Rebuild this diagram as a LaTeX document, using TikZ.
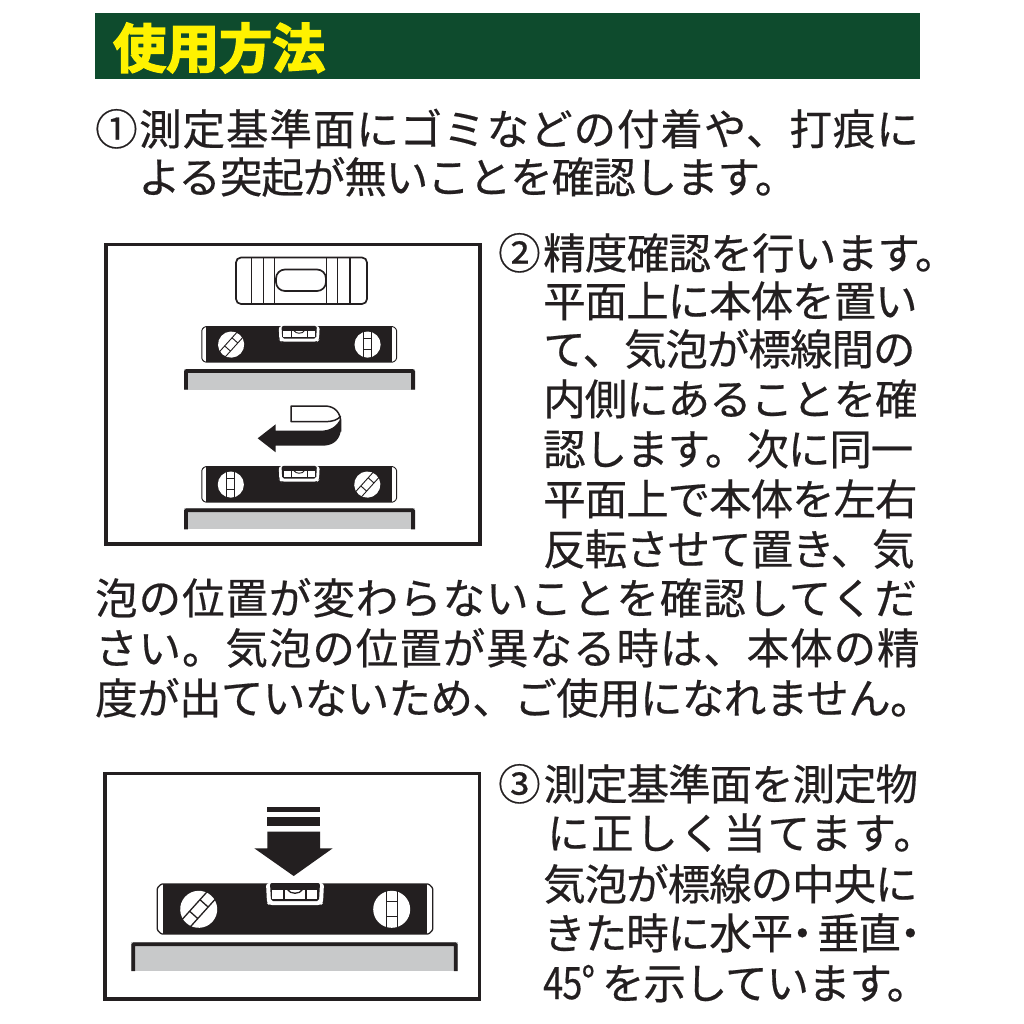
\documentclass[tikz,border=0pt]{standalone}
\usepackage{fontspec}
\usepackage{graphicx}
\newfontfamily\jpfont[FakeBold=0.45]{Noto Sans CJK JP}
\newfontfamily\jptitle[BoldFont={Noto Sans CJK JP},BoldFeatures={FakeBold=0}]{Noto Sans CJK JP Bold}
\definecolor{bannergreen}{HTML}{0E4B2D}
\definecolor{banneryellow}{HTML}{FFF200}
\definecolor{standgray}{HTML}{C8C9CA}
\definecolor{inkblack}{HTML}{231F20}
\tikzset{
  jp/.style={anchor=base west,inner sep=0pt,text=inkblack},
  framebox/.style={draw=inkblack,line width=3.6pt,fill=white},
  thinink/.style={draw=inkblack,line width=1.7pt},
}
% #1 x, #2 baseline y, #3 letter space percent, #4 text
\newcommand\jline[4]{\node[jp] at (#1,#2) {\jpfont\fontsize{42.5}{42.5}\selectfont\addfontfeature{LetterSpace=#3}#4};}
% level bar: #1 cx, #2 top y, #3 scale, #4 mirror
\newcommand\levelbar[4]{%
\begin{scope}[shift={(#1,#2)},xscale=#3*#4,yscale=#3,line width=#3*1.3pt]
  \filldraw[draw=inkblack,fill=white,rounded corners=1pt] (-137.7,4)--(-133.7,0)--(133.7,0)--(137.7,4)--(137.7,46)--(133.7,50)--(-133.7,50)--(-137.7,46)--cycle;
  \fill[inkblack] (-131.7,0) rectangle (131.7,50);
  % vial
  \fill[white,rounded corners=3pt] (-29,-1) -- (-28,19) -- (-26,21) -- (26,21) -- (28,19) -- (29,-1) -- cycle;
  \fill[inkblack,rounded corners=2pt] (-25,-1) -- (-24,17) -- (24,17) -- (25,-1) -- cycle;
  \fill[white] (-23,5.5) rectangle (22,15);
  \draw[inkblack] (-11,5.5) -- (-11,15) (11,5.5) -- (11,15);
  \draw[inkblack] (-7.5,5.5) .. controls (-5,10.5) and (5,10.5) .. (7.5,5.5);
  % screws
  \begin{scope}[shift={(-96.3,25.3)},rotate=-42*#4]
    \fill[white] (0,0) circle (18.5);
    \draw[inkblack] (-5.5,-18.2) -- (-5.5,18.2) (5.5,-18.2) -- (5.5,18.2) (-5.5,-8) -- (5.5,-8) (-5.5,7.5) -- (5.5,7.5);
  \end{scope}
  \begin{scope}[shift={(96.7,25.3)}]
    \fill[white] (0,0) circle (18.5);
    \draw[inkblack] (-5.5,-18.2) -- (-5.5,18.2) (5.5,-18.2) -- (5.5,18.2) (-5.5,-8) -- (5.5,-8) (-5.5,7.5) -- (5.5,7.5);
  \end{scope}
\end{scope}}
% stand: x1 x2 ytop ybottom
\newcommand\standbar[4]{%
  \fill[standgray] (#1,#3) rectangle (#2,#4);
  \draw[inkblack,line width=3.8pt,rounded corners=1pt] ({#1+1.9},#4) -- ({#1+1.9},{#3+1.9}) -- ({#2-1.9},{#3+1.9}) -- ({#2-1.9},#4);}
\begin{document}
\begin{tikzpicture}[x=1pt,y=-1pt]
\useasboundingbox (0,0) rectangle (1024,1024);
\fill[white] (0,0) rectangle (1024,1024);
% banner
\fill[bannergreen] (95,13) rectangle (920,79);
\node[anchor=base west,inner sep=0pt,text=banneryellow] (title) at (113,68)
  {\jptitle\fontsize{53}{53}\selectfont\addfontfeature{FakeBold=3}使用方法};
% step 1
\jline{95}{145}{2.2}{①\kern1.5pt 測定基準面にゴミなどの付着や、打痕に}
\jline{138}{193}{-2.4}{よる突起が無いことを確認します。}
% step 2 text
\jline{498}{269}{-1.7}{②\kern2.5pt 精度確認を行います。}
\jline{543}{317}{-2.4}{平面上に本体を置い}
\jline{543}{365}{-2.4}{て、気泡が標線間の}
\jline{543}{415}{-2.4}{内側にあることを確}
\jline{543}{465}{-2.4}{認します。次に同一}
\jline{543}{515}{-2.4}{平面上で本体を左右}
\jline{543}{565}{-2.4}{反転させて置き、気}
\jline{95}{614}{2.2}{泡の位置が変わらないことを確認してくだ}
\jline{95}{664}{2.2}{さい。気泡の位置が異なる時は、本体の精}
\jline{95}{714}{-1.4}{度が出ていないため、ご使用になれません。}
% step 3 text
\jline{498}{800}{-2.4}{③\kern3pt 測定基準面を測定物}
\jline{547}{849}{3.7}{に正しく当てます。}
\jline{543}{900}{-2.4}{気泡が標線の中央に}
\jline{543}{949}{-2.4}{きた時に水平\kern-12pt・\kern-6.5pt 垂直\kern-12pt・}
\jline{543}{999}{-2.4}{\scalebox{.85}[1.05]{45°}\kern7pt を示しています。}
% frame 1
\draw[framebox] (106,244.5) rectangle (480,544);
\draw[thinink,rounded corners=5pt] (236,257.5) rectangle (367,304);
\draw[thinink,line width=1.5pt] (251.7,257.5)--(251.7,304) (263.3,257.5)--(263.3,304) (274.3,257.5)--(274.3,304)
  (326.7,257.5)--(326.7,304) (337.3,257.5)--(337.3,304) (350,257.5)--(350,304);
\draw[thinink,fill=white,rounded corners=9pt] (276,269.5) rectangle (326,291);
\levelbar{299.2}{326.7}{0.707}{1}
\standbar{184}{415}{369}{389.7}
\fill[inkblack] (257.7,438.3) -- (275.7,424.3) -- (275.7,430.7) -- (320,430.7) .. controls (331,430.7) and (337,426) .. (340.7,418)
  -- (340.7,431.7) .. controls (338.3,443) and (330,445.7) .. (322,445.7) -- (275.7,445.7) -- (275.7,452.3) -- cycle;
\draw[inkblack,line width=1.5pt,line join=round] (340.7,431.7) -- (340.7,421.7) .. controls (340.7,413.3) and (335,406) .. (325,406)
  -- (291,406) -- (291,421.7) -- (325,421.7) .. controls (332,421.7) and (338,420) .. (340.7,416);
\levelbar{299.2}{466.7}{0.707}{-1}
\standbar{184}{415}{508.3}{529.3}
% frame 2
\draw[framebox] (105,773.5) rectangle (479.5,999);
\fill[inkblack] (267.3,807.3) rectangle (320,811.7);
\fill[inkblack] (267.3,817.3) rectangle (320,826);
\fill[inkblack] (267.3,831.7) -- (320,831.7) -- (320,848.3) -- (332.7,848.3) -- (293.7,876) -- (254.3,848.3) -- (267.3,848.3) -- cycle;
\levelbar{295}{884}{1}{1}
\standbar{131.3}{457.7}{942.3}{971}
\end{tikzpicture}
\end{document}
